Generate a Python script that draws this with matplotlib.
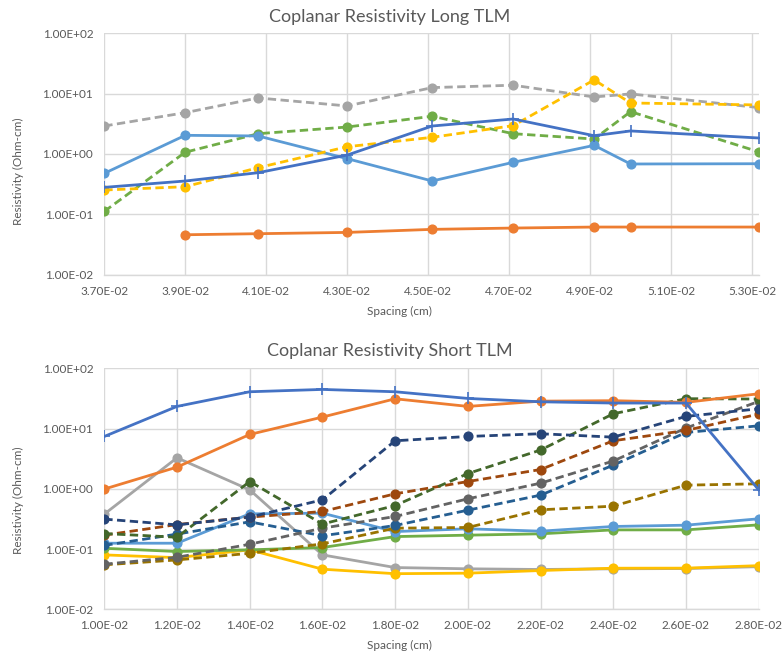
import matplotlib
matplotlib.use("Agg")
import matplotlib.pyplot as plt
from matplotlib.ticker import FixedLocator, FuncFormatter, NullLocator

plt.rcParams['font.family'] = ['Lato', 'DejaVu Sans']

# ---------------- Long TLM data ----------------
long_x = [0.0370, 0.0390, 0.0408, 0.0430, 0.0451, 0.0471, 0.0491, 0.0500, 0.05318]
long_blue = [0.28, 0.357, 0.49, 0.96, 2.91, 3.8, 2.01, 2.41, 1.84]
long_orange = [None, 0.0459, 0.0478, 0.0502, 0.0564, 0.0593, 0.0616, 0.0616, 0.0616]
long_gray = [2.91, 4.84, 8.49, 6.25, 12.6, 13.8, 8.81, 9.9, 5.86]
long_yellow = [0.253, 0.287, 0.593, 1.32, 1.89, 2.95, 16.9, 7.0, 6.5]
long_lightblue = [0.478, 2.04, 1.99, 0.837, 0.357, 0.728, 1.39, 0.683, 0.69]
long_green = [0.112, 1.07, 2.17, 2.8, 4.22, 2.17, 1.77, 5.03, 1.08]
long_xticks = [0.037, 0.039, 0.041, 0.043, 0.045, 0.047, 0.049, 0.051, 0.053]

# ---------------- Short TLM data ----------------
short_x = [0.010, 0.012, 0.014, 0.016, 0.018, 0.020, 0.022, 0.024, 0.026, 0.028]
short_blue = [7.39, 23.3, 40.8, 44.6, 40.8, 31.6, 27.8, 26.5, 26.5, 0.96]
short_orange = [0.99, 2.29, 7.98, 15.5, 31.2, 23.3, 28.5, 29.0, 27.2, 37.8]
short_gray = [0.38, 3.27, 0.96, 0.080, 0.0493, 0.0470, 0.0458, 0.0470, 0.0475, 0.0510]
short_yellow = [0.080, 0.072, 0.097, 0.0463, 0.039, 0.0398, 0.0440, 0.0481, 0.0482, 0.053]
short_lightblue = [0.125, 0.125, 0.384, 0.394, 0.195, 0.217, 0.198, 0.237, 0.249, 0.318]
short_green = [0.103, 0.091, 0.097, 0.106, 0.161, 0.170, 0.179, 0.208, 0.208, 0.252]
short_navy = [0.314, 0.252, 0.339, 0.656, 6.27, 7.39, 8.2, 7.2, 15.9, 21.3]
short_brown = [0.170, 0.255, 0.339, 0.42, 0.826, 1.32, 2.09, 6.27, 9.3, 17.4]
short_darkgray = [0.056, 0.073, 0.12, 0.222, 0.347, 0.682, 1.24, 2.89, 10.2, 28.2]
short_olive = [0.0547, 0.066, 0.085, 0.122, 0.222, 0.228, 0.448, 0.515, 1.15, 1.21]
short_steel = [0.115, 0.177, 0.283, 0.166, 0.246, 0.442, 0.785, 2.47, 8.61, 11.1]
short_darkgreen = [0.181, 0.157, 1.32, 0.26, 0.528, 1.79, 4.4, 17.6, 31.3, 30.9]
short_xticks = [0.010, 0.012, 0.014, 0.016, 0.018, 0.020, 0.022, 0.024, 0.026, 0.028]

y_ticks = [1e-2, 1e-1, 1e0, 1e1, 1e2]

TXT = '#595959'
GRID = '#D9D9D9'
W, H = 782, 656
fig = plt.figure(figsize=(W / 100, H / 100), dpi=100)


def ax_rect(l, r, t, b):
    return [l / W, 1 - b / H, (r - l) / W, (b - t) / H]


def sci(v, pos=None):
    return '%.2E' % v


def style(ax, xticks, xlim):
    ax.set_yscale('log')
    ax.set_ylim(1e-2, 1e2)
    ax.set_xlim(*xlim)
    ax.yaxis.set_major_locator(FixedLocator(y_ticks))
    ax.yaxis.set_minor_locator(NullLocator())
    ax.xaxis.set_major_locator(FixedLocator(xticks))
    ax.xaxis.set_major_formatter(FuncFormatter(sci))
    ax.yaxis.set_major_formatter(FuncFormatter(sci))
    ax.grid(True, color=GRID, linewidth=1.0)
    ax.set_axisbelow(True)
    for s in ['top', 'right', 'left']:
        ax.spines[s].set_visible(False)
    ax.spines['bottom'].set_color(GRID)
    ax.spines['bottom'].set_linewidth(1.0)
    ax.tick_params(axis='both', length=0, labelsize=8.5, labelcolor=TXT, pad=8)


def series(ax, x, y, color, dashed=False, marker='o'):
    xs = [a for a, b in zip(x, y) if b is not None]
    ys = [b for b in y if b is not None]
    kw = dict(color=color, linewidth=2.0, marker=marker,
              markerfacecolor=color, markeredgecolor=color)
    if marker == '+':
        kw.update(markersize=8, markeredgewidth=1.2)
    else:
        kw.update(markersize=6.3)
    if dashed:
        kw.update(linestyle=(0, (3, 1.6)))
    ax.plot(xs, ys, **kw)


# ---------- top chart ----------
ax1 = fig.add_axes(ax_rect(104.3, 759.3, 33.3, 274.7))
style(ax1, long_xticks, (0.037, 0.05318))
series(ax1, long_x, long_gray, '#A5A5A5', dashed=True)
series(ax1, long_x, long_green, '#70AD47', dashed=True)
series(ax1, long_x, long_lightblue, '#5B9BD5')
series(ax1, long_x, long_orange, '#ED7D31')
series(ax1, long_x, long_yellow, '#FFC000', dashed=True)
series(ax1, long_x, long_blue, '#4472C4', marker='+')

fig.text(390 / W, 1 - 17 / H, 'Coplanar Resistivity Long TLM', ha='center', va='center',
         fontsize=13, color=TXT)
fig.text(399 / W, 1 - 311 / H, 'Spacing (cm)', ha='center', va='center', fontsize=8.5, color=TXT)
fig.text(18 / W, 1 - 171 / H, 'Resistivity (Ohm-cm)', ha='center', va='center', rotation=90,
         fontsize=8.5, color=TXT)

# ---------- bottom chart ----------
ax2 = fig.add_axes(ax_rect(104.3, 758.7, 368.3, 609.3))
style(ax2, short_xticks, (0.010, 0.028))
series(ax2, short_x, short_gray, '#A5A5A5')
series(ax2, short_x, short_yellow, '#FFC000')
series(ax2, short_x, short_green, '#70AD47')
series(ax2, short_x, short_lightblue, '#5B9BD5')
series(ax2, short_x, short_olive, '#997300', dashed=True)
series(ax2, short_x, short_steel, '#255E91', dashed=True)
series(ax2, short_x, short_darkgray, '#636363', dashed=True)
series(ax2, short_x, short_brown, '#9E480E', dashed=True)
series(ax2, short_x, short_darkgreen, '#43682B', dashed=True)
series(ax2, short_x, short_navy, '#264478', dashed=True)
series(ax2, short_x, short_orange, '#ED7D31')
series(ax2, short_x, short_blue, '#4472C4', marker='+')

fig.text(390 / W, 1 - 351 / H, 'Coplanar Resistivity Short TLM', ha='center', va='center',
         fontsize=13, color=TXT)
fig.text(399 / W, 1 - 645 / H, 'Spacing (cm)', ha='center', va='center', fontsize=8.5, color=TXT)
fig.text(18 / W, 1 - 500 / H, 'Resistivity (Ohm-cm)', ha='center', va='center', rotation=90,
         fontsize=8.5, color=TXT)

fig.savefig('out.png', dpi=100)
